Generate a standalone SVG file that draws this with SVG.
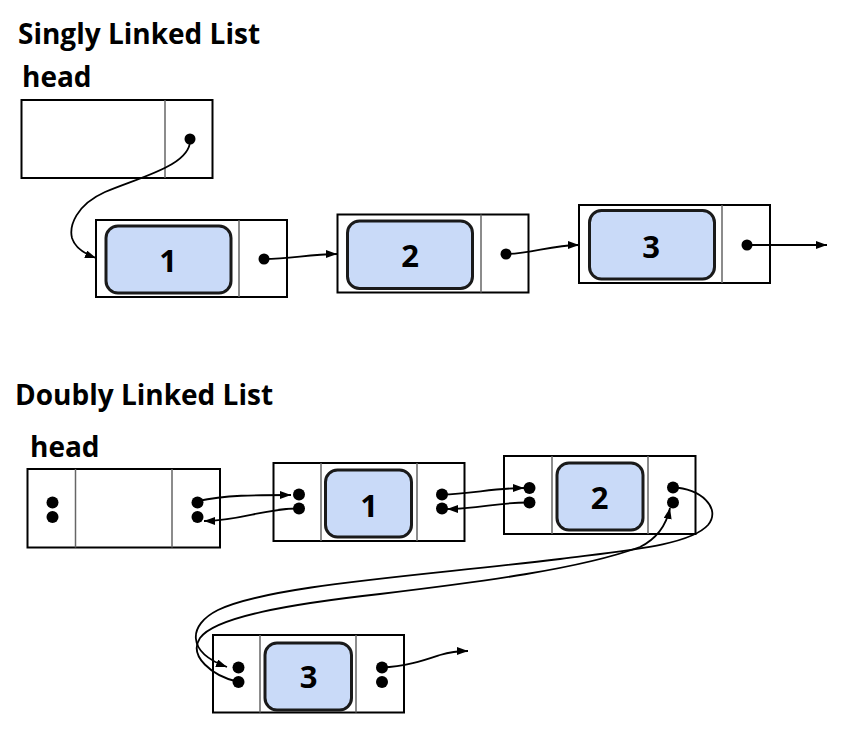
<svg xmlns="http://www.w3.org/2000/svg" width="850" height="729" viewBox="0 0 850 729">
<defs>
<marker id="arr" markerWidth="13" markerHeight="9" refX="11" refY="4" orient="auto" markerUnits="userSpaceOnUse">
<path d="M0,0 L11,4 L0,8 z" fill="#000"/>
</marker>
<style>
.t{font-family:"Open Sans","Noto Sans","Liberation Sans",sans-serif;font-weight:bold;font-size:28px;fill:#000}
.d{font-family:"Open Sans","Noto Sans","Liberation Sans",sans-serif;font-weight:bold;font-size:31px;fill:#000;text-anchor:middle}
.box{fill:#fff;stroke:#000;stroke-width:2}
.div{stroke:#666;stroke-width:1.5}
.val{fill:#c9daf8;stroke:#1a1a1a;stroke-width:3}
.dot{fill:#000}
.c{fill:none;stroke:#000;stroke-width:1.8;marker-end:url(#arr)}
</style>
</defs>
<rect width="850" height="729" fill="#fff"/>
<text class="t" x="18" y="44">Singly Linked List</text>
<text class="t" x="22" y="87">head</text>
<text class="t" x="15" y="405">Doubly Linked List</text>
<text class="t" x="30" y="457">head</text>

<g id="s-head">
<rect class="box" x="21.5" y="100" width="191" height="78"/>
<line class="div" x1="165" y1="100" x2="165" y2="178"/>
<circle class="dot" cx="190" cy="139" r="5.5"/>
</g>
<g id="s-node1">
<rect class="box" x="96" y="220" width="191" height="77"/>
<line class="div" x1="239" y1="220" x2="239" y2="297"/>
<rect class="val" x="106" y="226" width="125" height="67" rx="12"/>
<text class="d" x="168" y="272">1</text>
<circle class="dot" cx="264" cy="259" r="5.5"/>
</g>
<g id="s-node2">
<rect class="box" x="337.5" y="214.5" width="191" height="78"/>
<line class="div" x1="481" y1="214.5" x2="481" y2="292.5"/>
<rect class="val" x="347.5" y="221" width="125" height="67.5" rx="12"/>
<text class="d" x="410" y="266.5">2</text>
<circle class="dot" cx="506" cy="254" r="5.5"/>
</g>
<g id="s-node3">
<rect class="box" x="579" y="205" width="191" height="78"/>
<line class="div" x1="722" y1="205" x2="722" y2="283"/>
<rect class="val" x="589.5" y="210.5" width="125" height="68.5" rx="12"/>
<text class="d" x="651" y="257.5">3</text>
<circle class="dot" cx="747" cy="245" r="5.5"/>
</g>

<g id="d-head">
<rect class="box" x="27.5" y="469" width="192.5" height="78.5"/>
<line class="div" x1="75.5" y1="469" x2="75.5" y2="547.5"/>
<line class="div" x1="172" y1="469" x2="172" y2="547.5"/>
<circle class="dot" cx="52.5" cy="502.5" r="6"/>
<circle class="dot" cx="52.5" cy="517" r="6"/>
<circle class="dot" cx="197.5" cy="502.5" r="6"/>
<circle class="dot" cx="197.5" cy="517" r="6"/>
</g>
<g id="d-node1">
<rect class="box" x="273.5" y="463" width="191" height="78"/>
<line class="div" x1="321" y1="463" x2="321" y2="541"/>
<line class="div" x1="417" y1="463" x2="417" y2="541"/>
<rect class="val" x="325.5" y="470" width="86" height="67" rx="12"/>
<text class="d" x="369" y="517">1</text>
<circle class="dot" cx="299" cy="494.5" r="6"/>
<circle class="dot" cx="299" cy="508.5" r="6"/>
<circle class="dot" cx="442" cy="494.5" r="6"/>
<circle class="dot" cx="442" cy="508.5" r="6"/>
</g>
<g id="d-node2">
<rect class="box" x="504" y="456" width="191.5" height="78"/>
<line class="div" x1="552" y1="456" x2="552" y2="534"/>
<line class="div" x1="648" y1="456" x2="648" y2="534"/>
<rect class="val" x="557" y="463" width="86" height="67" rx="12"/>
<text class="d" x="599.5" y="509">2</text>
<circle class="dot" cx="529.5" cy="488" r="6"/>
<circle class="dot" cx="529.5" cy="502.5" r="6"/>
<circle class="dot" cx="673" cy="487.5" r="6"/>
<circle class="dot" cx="673" cy="502.5" r="6"/>
</g>
<g id="d-node3">
<rect class="box" x="213" y="635" width="191" height="77.5"/>
<line class="div" x1="260" y1="635" x2="260" y2="712.5"/>
<line class="div" x1="356" y1="635" x2="356" y2="712.5"/>
<rect class="val" x="265" y="643" width="86.5" height="67" rx="12"/>
<text class="d" x="308.5" y="688">3</text>
<circle class="dot" cx="238.5" cy="667.5" r="6"/>
<circle class="dot" cx="238.5" cy="682" r="6"/>
<circle class="dot" cx="382" cy="667.5" r="6"/>
<circle class="dot" cx="382" cy="682" r="6"/>
</g>

<g id="connectors">
<path class="c" d="M190,139 C192,165 140,177 105,192 C76,205 69,226 72,238 C75,248 85,254 96,258"/>
<path class="c" d="M264,259 C292,259 308,254 337,254"/>
<path class="c" d="M506,254 C532,254 550,245 579,245"/>
<path class="c" d="M747,245 L827,245"/>
<path class="c" d="M198,501 C225,495 255,495 291,495"/>
<path class="c" d="M299,508.5 C265,508 240,521 204,521"/>
<path class="c" d="M442,494.5 C470,494 495,488 524,488"/>
<path class="c" d="M529.5,502.5 C500,502 478,509 447,509"/>
<path class="c" d="M673,487.5 C700,488 722,508 708,525 C690,545 630,550 560,559 C420,576 270,585 218,610 C188,625 186,652 227,667"/>
<path class="c" d="M238.5,682 C212,676 188,656 200,638 C215,617 290,604 380,594 C480,582 580,569 640,547 C660,537 667,522 670,508"/>
<path class="c" d="M382,667.5 C405,667 425,660 440,655 C450,652 458,651 468,651"/>
</g>
</svg>
